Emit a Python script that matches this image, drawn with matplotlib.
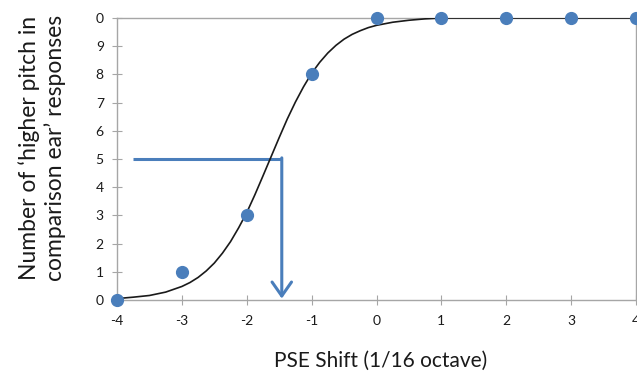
import matplotlib
matplotlib.use('Agg')
import matplotlib.pyplot as plt

# observed responses
pse_shift = [-4, -3, -2, -1, 0, 1, 2, 3, 4]
responses = [0, 1, 3, 8, 10, 10, 10, 10, 10]

# fitted curve
curve_x = [-4, -3.75, -3.5, -3.25, -3, -2.875, -2.75, -2.625, -2.5, -2.375,
           -2.25, -2.125, -2, -1.875, -1.75, -1.625, -1.5, -1.375, -1.25,
           -1.125, -1, -0.875, -0.75, -0.625, -0.5, -0.375, -0.25, -0.125,
           0, 0.25, 0.5, 0.75, 1, 2, 3, 4]
curve_y = [0.05, 0.1, 0.16, 0.28, 0.48, 0.62, 0.8, 1.03, 1.31, 1.66,
           2.07, 2.56, 3.1, 3.73, 4.4, 5.08, 5.76, 6.42, 7.02,
           7.56, 8.04, 8.43, 8.76, 9.03, 9.25, 9.42, 9.55, 9.66,
           9.74, 9.85, 9.92, 9.97, 10, 10, 10, 10]

# PSE read-off line
pse_level = 5
pse_line_start = -3.75
pse_value = -1.46

y_ticks = list(range(11))
y_tick_labels = ['0', '1', '2', '3', '4', '5', '6', '7', '8', '9', '0']
x_ticks = [-4, -3, -2, -1, 0, 1, 2, 3, 4]

blue = '#4a7ebb'
grey = '#a6a6a6'

plt.rcParams['font.family'] = ['Lato', 'DejaVu Sans']
plt.rcParams['axes.unicode_minus'] = False

fig = plt.figure(figsize=(6.37, 3.79), dpi=100)
ax = fig.add_axes([117 / 637, 1 - 300 / 379, 519 / 637, 282 / 379])

ax.plot(curve_x, curve_y, color='#1a1a1a', lw=1.2, zorder=3)
ax.plot(pse_shift, responses, 'o', color=blue, ms=8.5, clip_on=False, zorder=4)

ax.plot([pse_line_start, pse_value], [pse_level, pse_level], color=blue,
        lw=2.2, solid_capstyle='butt', zorder=2)
ax.annotate('', xy=(pse_value, 0.05), xytext=(pse_value, pse_level + 0.04),
            arrowprops=dict(arrowstyle='->,head_length=0.5,head_width=0.35',
                            color=blue, lw=2.2, mutation_scale=20,
                            shrinkA=0, shrinkB=0),
            zorder=2)

ax.set_xlim(-4, 4)
ax.set_ylim(0, 10)
ax.set_xticks(x_ticks)
ax.set_yticks(y_ticks)
ax.set_yticklabels(y_tick_labels)

for s in ax.spines.values():
    s.set_color(grey)
    s.set_linewidth(1.0)

ax.tick_params(direction='inout', length=7, width=0.8, color=grey,
               labelsize=10, labelcolor='#1a1a1a')
ax.tick_params(axis='x', pad=7)
ax.tick_params(axis='y', pad=6)

fig.text(42 / 637, 1 - 148 / 379,
         "Number of \u2018higher pitch in\ncomparison ear\u2019 responses",
         rotation=90, ha='center', va='center', multialignment='center',
         fontsize=16.5, linespacing=1.2, color='#1a1a1a')
fig.text(381 / 637, 1 - 361 / 379, 'PSE Shift (1/16 octave)',
         ha='center', va='center', fontsize=15, color='#1a1a1a')

fig.savefig('out.png', dpi=100)
